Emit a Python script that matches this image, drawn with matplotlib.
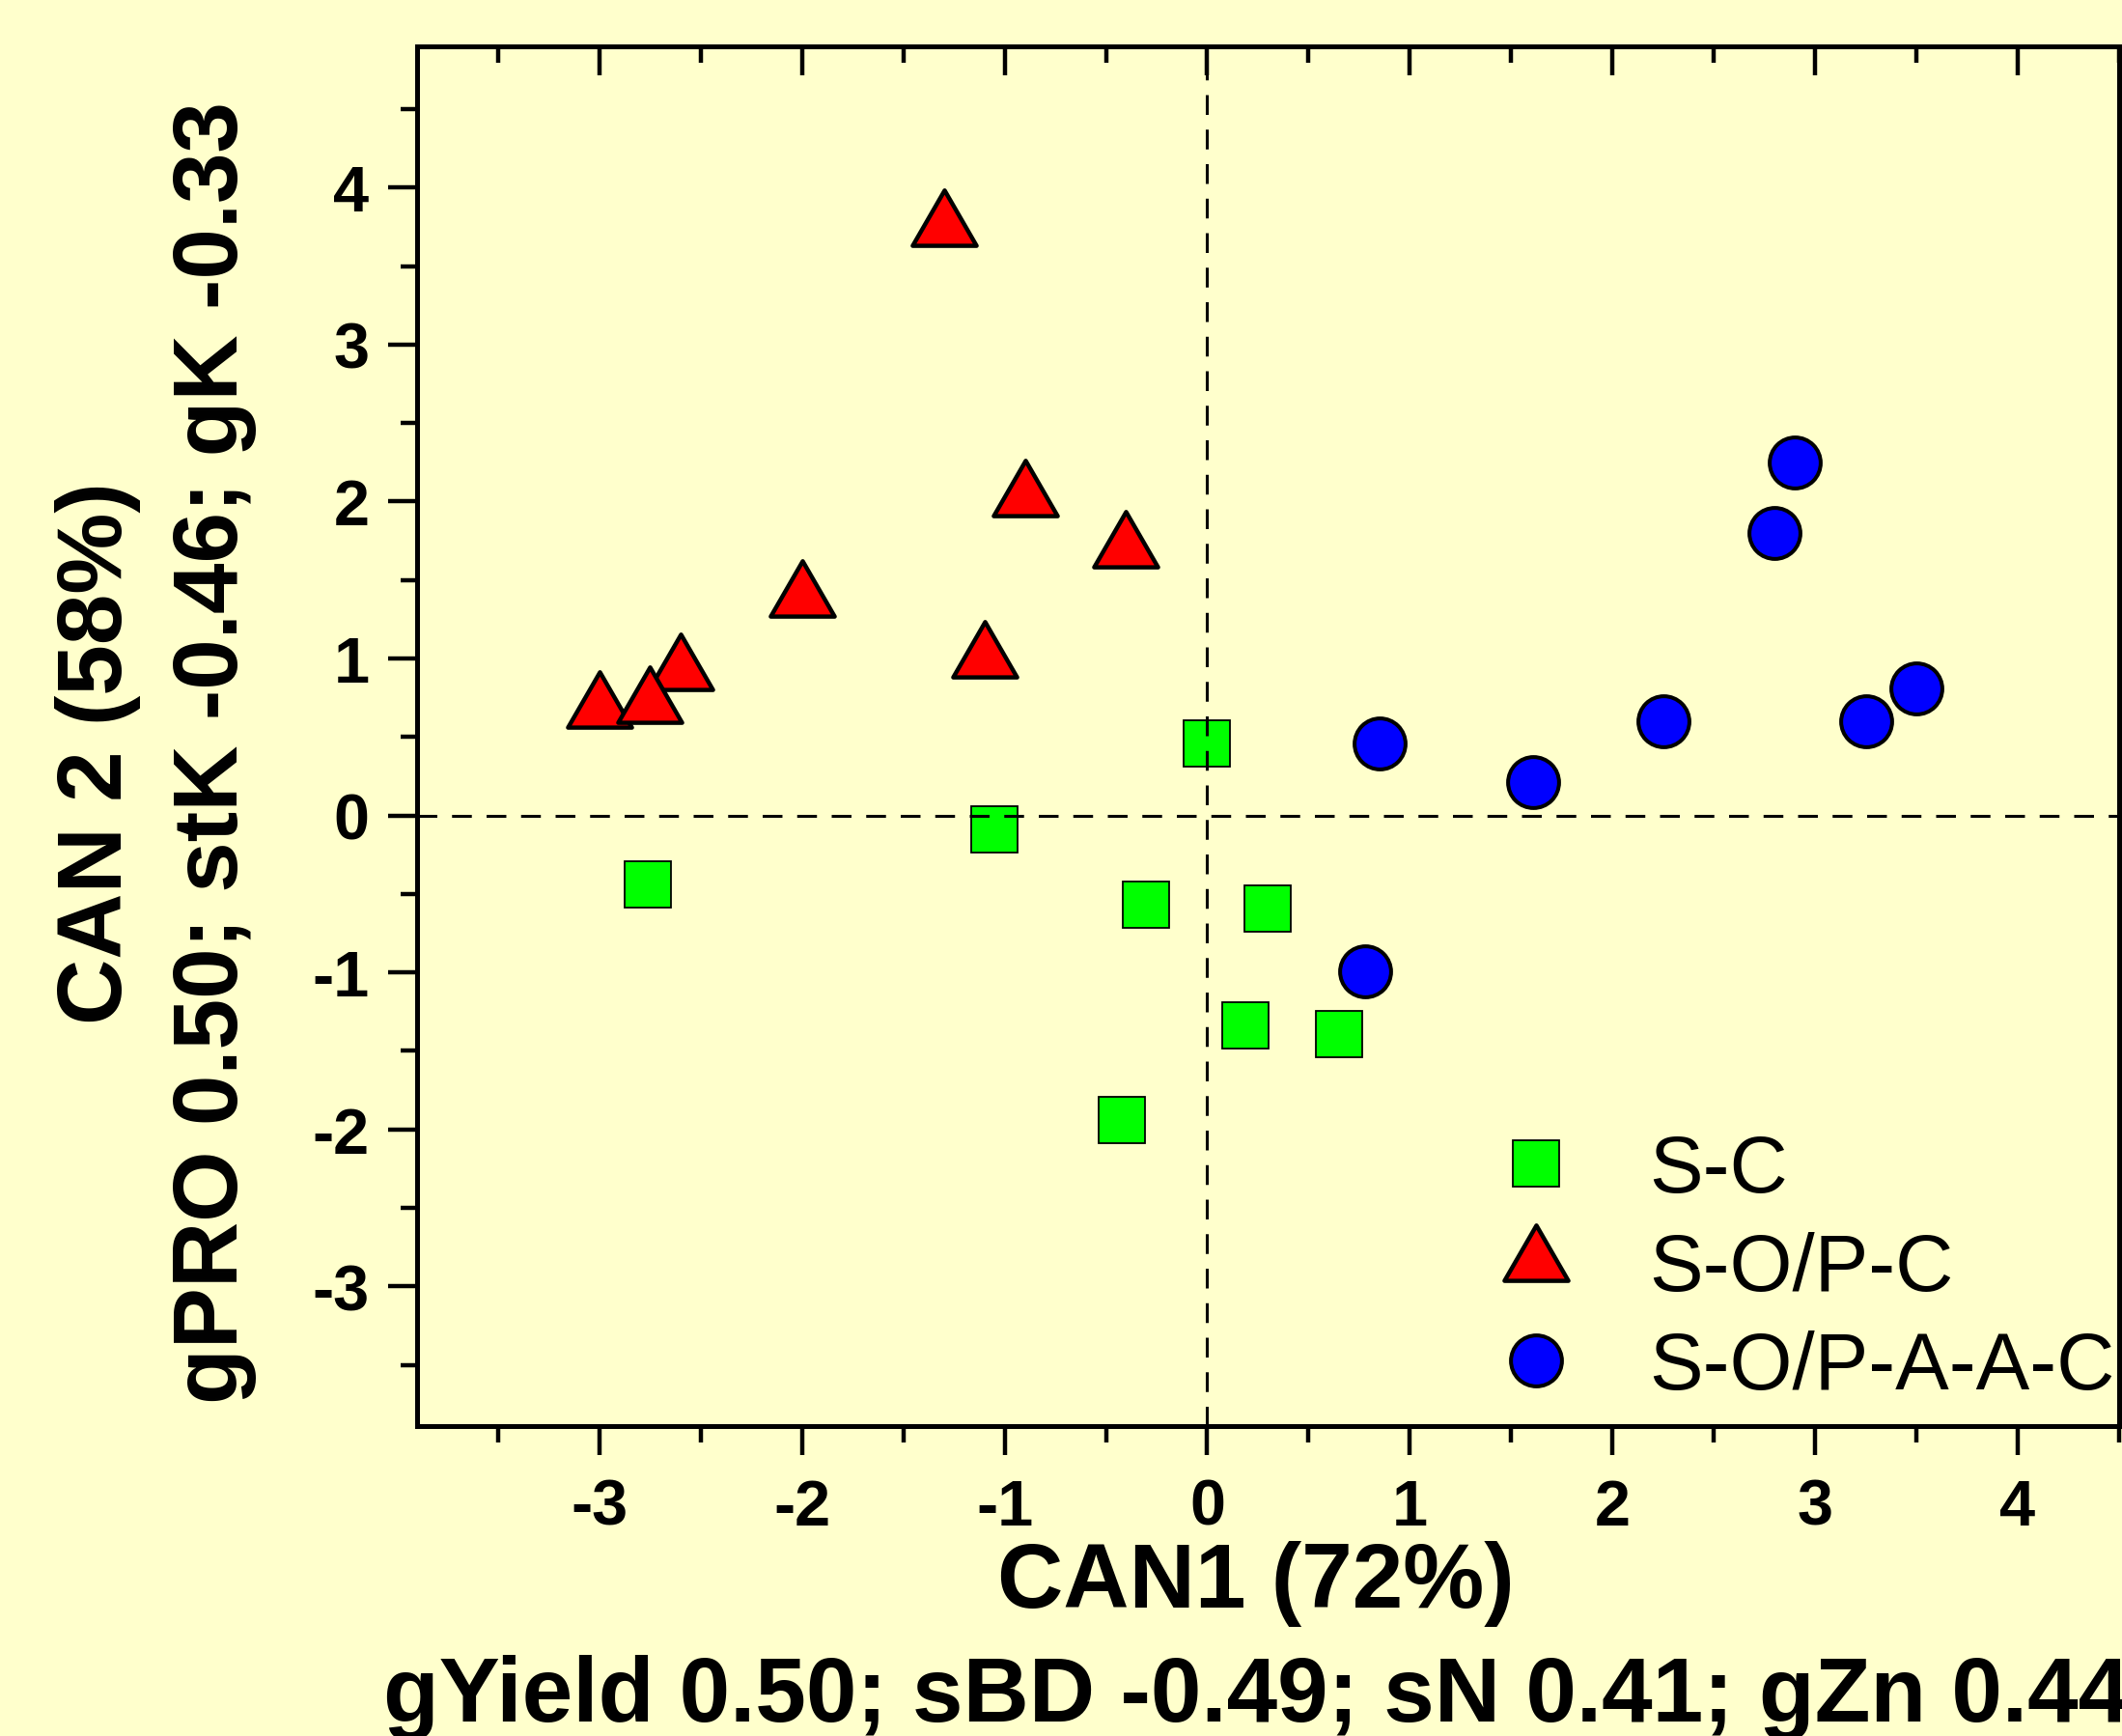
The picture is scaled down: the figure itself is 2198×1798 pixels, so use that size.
import numpy as np
import matplotlib.pyplot as plt
from matplotlib.markers import MarkerStyle
from matplotlib.path import Path
from matplotlib.ticker import MultipleLocator

plt.rcParams['font.family'] = ['Liberation Sans', 'DejaVu Sans']
plt.rcParams['axes.unicode_minus'] = False

# данные
sc_x = [0.0, -1.05, -2.76, -0.30, 0.30, 0.19, 0.65, -0.42]
sc_y = [0.46, -0.09, -0.44, -0.57, -0.59, -1.34, -1.39, -1.94]

sopc_x = [-1.3, -0.9, -0.4, -2.0, -1.1, -2.6, -3.0, -2.75]
sopc_y = [3.75, 2.03, 1.70, 1.39, 1.0, 0.92, 0.68, 0.71]

sopaac_x = [2.9, 2.8, 3.5, 3.25, 2.25, 0.85, 1.61, 0.78]
sopaac_y = [2.25, 1.8, 0.81, 0.6, 0.6, 0.46, 0.21, -0.99]

labels = ['S-C', 'S-O/P-C', 'S-O/P-A-A-C']
x_ticks = [-3, -2, -1, 0, 1, 2, 3, 4]
y_ticks = [-3, -2, -1, 0, 1, 2, 3, 4]
xlabel = ['CAN1 (72%)', 'gYield 0.50; sBD -0.49; sN 0.41; gZn 0.44']
ylabel = ['CAN 2 (58%)', 'gPRO 0.50; stK -0.46; gK -0.33']

bg = '#FFFFCC'

# треугольник с центром масс в точке данных
tri_path = Path([(0, 1), (-0.866, -0.5), (0.866, -0.5), (0, 1)],
                [Path.MOVETO, Path.LINETO, Path.LINETO, Path.CLOSEPOLY])
tri = MarkerStyle(tri_path, joinstyle='miter')

fig = plt.figure(figsize=(21.98, 17.99), dpi=100, facecolor=bg)
ax = fig.add_axes([0.1965, 0.1784, 0.8021, 0.7944])
ax.set_facecolor(bg)

h1, = ax.plot(sc_x, sc_y, ls='none', marker='s', ms=34.5, mfc='#00FF00',
              mec='black', mew=1.3, label=labels[0], zorder=3)
h2, = ax.plot(sopc_x, sopc_y, ls='none', marker=tri, ms=55, mfc='#FF0000',
              mec='black', mew=3.2, label=labels[1], zorder=3)
h3, = ax.plot(sopaac_x, sopaac_y, ls='none', marker='o', ms=38, mfc='#0000FF',
              mec='black', mew=2.9, label=labels[2], zorder=3)

ax.axhline(0, color='black', lw=2.2, dashes=(6.7, 5), zorder=4)
ax.axvline(0, color='black', lw=2.2, dashes=(6.7, 5), zorder=4)

ax.set_xlim(-3.9, 4.5)
ax.set_ylim(-3.89, 4.9)
ax.set_xticks(x_ticks)
ax.set_yticks(y_ticks)
ax.xaxis.set_minor_locator(MultipleLocator(0.5))
ax.yaxis.set_minor_locator(MultipleLocator(0.5))

for s in ax.spines.values():
    s.set_linewidth(3.6)

ax.tick_params(which='both', direction='out', width=3.2, right=True)
ax.tick_params(which='major', length=21.6)
ax.tick_params(which='minor', length=12.2)
ax.tick_params(axis='x', pad=17)
ax.tick_params(axis='y', pad=14)
for lab in ax.get_xticklabels() + ax.get_yticklabels():
    lab.set_fontsize(48)
    lab.set_fontweight('bold')

# верхняя ось - засечки внутрь
top = ax.secondary_xaxis('top')
top.set_xticks(x_ticks)
top.xaxis.set_minor_locator(MultipleLocator(0.5))
top.tick_params(which='both', direction='in', width=3.2, labeltop=False)
top.tick_params(which='major', length=21.6)
top.tick_params(which='minor', length=12.2)
top.spines['top'].set_linewidth(3.6)

# подписи осей (по две строки)
for txt, yb in zip(xlabel, [0.0745, 0.0089]):
    fig.text(0.592, yb, txt, fontsize=68, fontweight='bold',
             ha='center', va='baseline')
for txt, xb in zip(ylabel, [0.0573, 0.1119]):
    fig.text(xb, 0.5664, txt, fontsize=68, fontweight='bold', rotation=90,
             rotation_mode='anchor', ha='center', va='baseline')

ax.legend(handles=[h1, h2, h3], loc='upper left', bbox_to_anchor=(0.634, 0.2127),
          frameon=False, fontsize=60, handlelength=1.0, handletextpad=0.9,
          labelspacing=0.29, borderpad=0, borderaxespad=0)

plt.savefig('out.png', dpi=100, facecolor=bg)
